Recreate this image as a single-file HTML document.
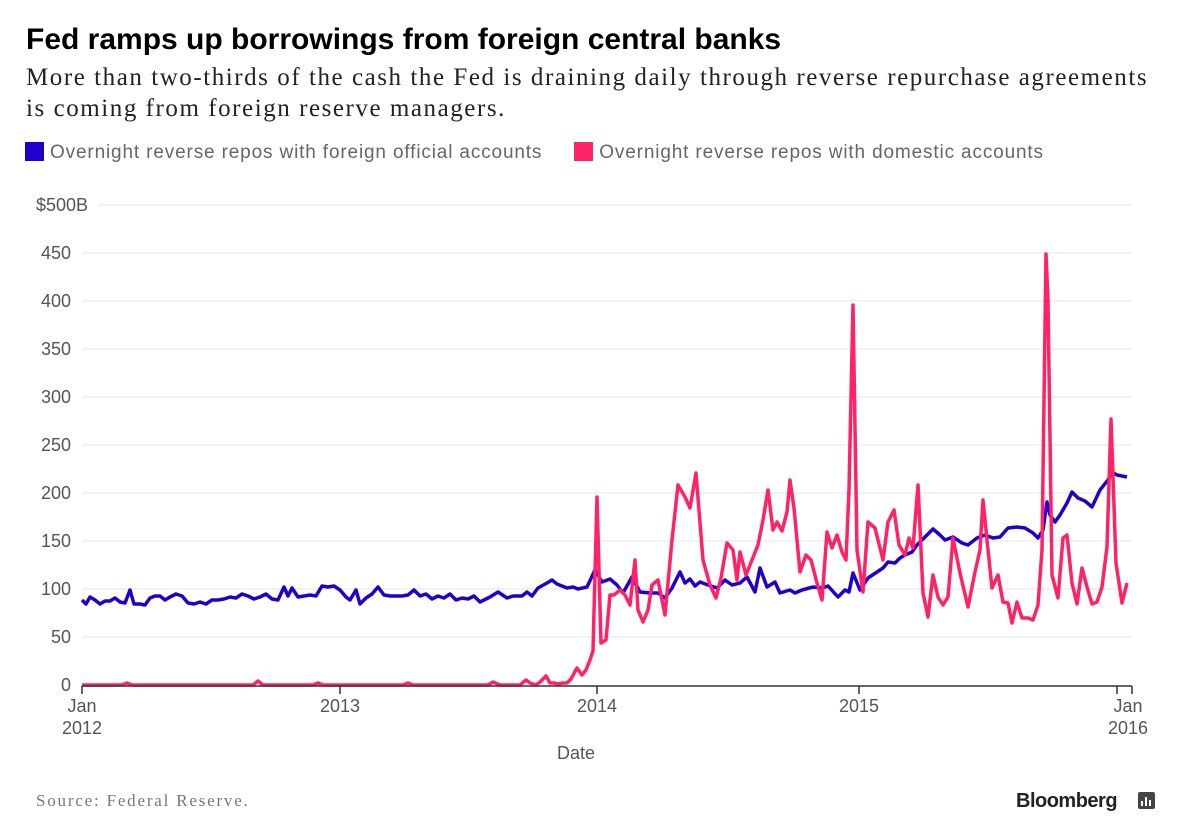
<!DOCTYPE html>
<html><head><meta charset="utf-8"><style>
body{margin:0;background:#fff;width:1177px;height:838px;overflow:hidden;position:relative;font-family:"Liberation Sans",sans-serif}
.t{position:absolute;white-space:nowrap}
</style></head><body>
<div class="t" style="left:26px;top:23px;font-size:30px;font-weight:bold;letter-spacing:0px;color:#000">Fed ramps up borrowings from foreign central banks</div>
<div class="t" style="left:26px;top:62px;font-family:'Liberation Serif',serif;font-size:25px;letter-spacing:1.55px;line-height:31px;color:#222">More than two-thirds of the cash the Fed is draining daily through reverse repurchase agreements<br>is coming from foreign reserve managers.</div>
<div class="t" style="left:25px;top:142px;font-size:19px;letter-spacing:0.85px;color:#666"><span style="display:inline-block;width:19px;height:19px;background:#2200cc;vertical-align:-3px;margin-right:6px"></span>Overnight reverse repos with foreign official accounts<span style="display:inline-block;width:19px;height:19px;background:#ff2266;vertical-align:-3px;margin:0 6px 0 32px"></span>Overnight reverse repos with domestic accounts</div>
<svg width="1177" height="838" style="position:absolute;left:0;top:0" font-family="Liberation Sans, sans-serif">
<g stroke="#e6e6e6" stroke-width="1">
<line x1="98" x2="1132" y1="205" y2="205"/><line x1="82" x2="1132" y1="253" y2="253"/><line x1="82" x2="1132" y1="301" y2="301"/><line x1="82" x2="1132" y1="349" y2="349"/><line x1="82" x2="1132" y1="397" y2="397"/><line x1="82" x2="1132" y1="445" y2="445"/><line x1="82" x2="1132" y1="493" y2="493"/><line x1="82" x2="1132" y1="541" y2="541"/><line x1="82" x2="1132" y1="589" y2="589"/><line x1="82" x2="1132" y1="637" y2="637"/>
</g>
<g font-size="18" fill="#555" text-anchor="end">
<text x="88" y="211">$500B</text><text x="71" y="259">450</text><text x="71" y="307">400</text><text x="71" y="355">350</text><text x="71" y="403">300</text><text x="71" y="451">250</text><text x="71" y="499">200</text><text x="71" y="547">150</text><text x="71" y="595">100</text><text x="71" y="643">50</text><text x="71" y="691">0</text>
</g>
<polyline fill="none" stroke="#2200cc" stroke-width="3.5" stroke-linejoin="round" points="82,600 86,604 90,597 95,600 100,604 105,601 110,601 115,598 120,602 125,603 130,590 134,604 140,604 145,605 150,598 155,596 160,596 165,600 170,597 176,594 182,596 188,603 194,604 200,602 206,604 212,600 218,600 224,599 230,597 236,598 242,594 248,596 254,599 260,597 266,594 272,599 278,600 284,587 288,596 292,588 298,597 304,596 310,595 316,596 322,586 328,587 334,586 340,590 346,597 350,600 356,590 360,604 366,598 372,594 378,587 384,595 390,596 396,596 402,596 408,595 414,590 420,596 426,594 432,599 438,596 444,598 450,594 456,600 462,598 468,599 474,596 480,602 490,597 498,592 507,598 513,596 522,596 527,592 532,596 538,588 547,583 552,580 557,584 567,588 573,587 578,589 587,587 595,570 602,582 610,579 617,585 623,593 632,577 640,592 650,593 658,593 665,598 672,588 680,572 685,583 690,579 695,586 700,582 708,585 717,588 725,580 732,585 740,583 747,577 755,592 760,568 767,587 775,582 780,593 790,590 795,593 802,590 813,587 822,588 828,586 838,597 845,590 849,592 853,573 860,590 868,578 880,570 883,568 888,562 895,563 900,558 905,555 912,552 917,545 927,535 933,529 940,535 945,540 953,537 962,543 968,545 977,538 985,535 993,538 1000,537 1008,528 1017,527 1025,528 1033,533 1038,538 1043,530 1047,502 1050,515 1055,522 1060,515 1067,503 1072,492 1078,498 1085,501 1092,507 1100,490 1108,480 1112,472 1117,475 1127,477"/>
<polyline fill="none" stroke="#ff2266" stroke-width="3.5" stroke-linejoin="round" points="82,685 122,685 127,683 132,685 253,685 258,681 263,685 313,685 318,683 323,685 403,685 408,683 413,685 488,685 493,682 500,685 520,685 526,680 530,683 536,685 540,682 546,676 550,683 554,683 558,684 563,683 567,683 571,679 577,668 582,675 586,670 590,660 593,651 597,497 601,643 606,640 610,595 614,595 620,590 625,595 630,605 635,560 638,610 643,622 648,610 652,585 658,580 665,615 672,540 678,485 685,497 690,508 696,473 703,560 710,585 716,598 721,578 727,543 733,550 737,580 740,552 746,575 752,560 758,545 763,520 768,490 773,530 777,522 782,531 787,512 790,480 794,508 800,572 806,555 811,560 817,583 822,600 827,532 832,548 837,535 842,552 846,560 849,490 853,305 857,550 863,592 868,522 875,528 883,560 888,522 894,510 899,545 905,555 909,538 913,548 918,485 923,593 928,617 933,575 938,597 943,605 948,597 953,538 960,573 968,607 975,572 980,550 983,500 987,540 992,588 998,575 1003,602 1008,603 1012,623 1017,602 1022,618 1028,618 1033,620 1038,605 1042,550 1046,254 1048,300 1052,575 1058,598 1063,538 1067,535 1072,583 1077,604 1082,568 1087,587 1092,604 1097,602 1102,587 1107,547 1111,419 1116,563 1122,603 1127,583"/>
<g stroke="#333" stroke-width="1.5"><line x1="82" x2="1132" y1="686" y2="686"/>
<line x1="82" x2="82" y1="686" y2="694"/><line x1="340" x2="340" y1="686" y2="694"/><line x1="597" x2="597" y1="686" y2="694"/><line x1="859" x2="859" y1="686" y2="694"/><line x1="1117" x2="1117" y1="686" y2="694"/><line x1="1132" x2="1132" y1="686" y2="694"/></g>
<g font-size="18" fill="#555" text-anchor="middle">
<text x="82" y="712">Jan</text><text x="82" y="734">2012</text><text x="340" y="712">2013</text><text x="597" y="712">2014</text><text x="859" y="712">2015</text><text x="1128" y="712">Jan</text><text x="1128" y="734">2016</text>
<text x="576" y="759">Date</text></g>
<text x="36" y="806" font-family="Liberation Serif, serif" font-size="17" letter-spacing="1.8" fill="#777">Source: Federal Reserve.</text>
<text x="1016" y="807" font-size="20" font-weight="bold" fill="#222" letter-spacing="-0.5">Bloomberg</text>
<rect x="1138" y="792" width="17" height="17" rx="2" fill="#444"/>
<g stroke="#fff" stroke-width="2"><line x1="1142" y1="806" x2="1142" y2="801"/><line x1="1146" y1="806" x2="1146" y2="797"/><line x1="1150" y1="806" x2="1150" y2="800"/></g>
</svg>
</body></html>
